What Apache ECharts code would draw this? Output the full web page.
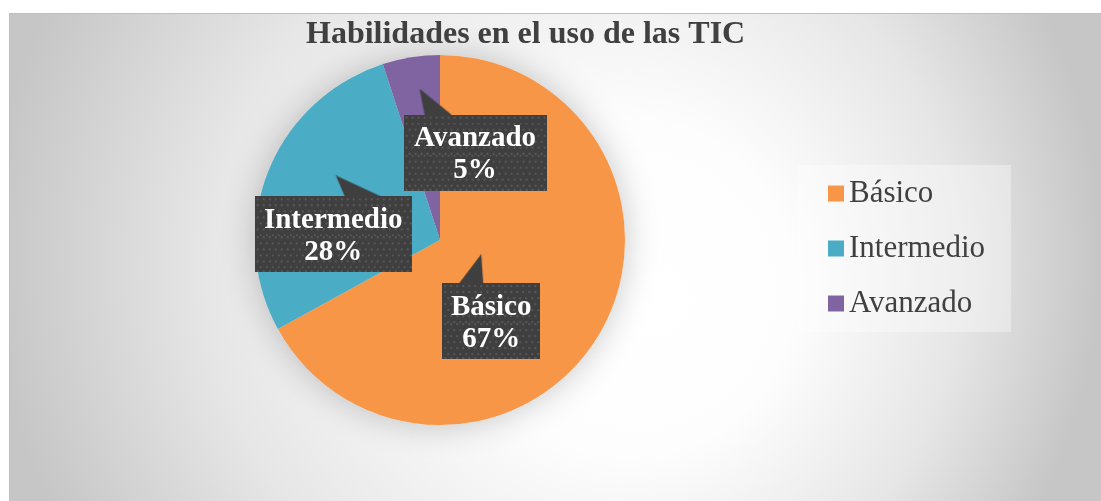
<!DOCTYPE html>
<html>
<head>
<meta charset="utf-8">
<script src="https://cdn.jsdelivr.net/npm/echarts@6/dist/echarts.min.js"></script>
<style>
  html, body { margin: 0; padding: 0; background: #ffffff; }
  #pieChart {
    position: absolute;
    left: 9px;
    top: 13px;
    width: 1091px;
    height: 487px;
    border-top: 1px solid #bfbfbf;
    border-left: 1px solid #bfbfbf;
  }
</style>
</head>
<body>
<div id="pieChart"></div>
<script>
// data
const categories = ['Básico', 'Intermedio', 'Avanzado'];
const percentValues = [67, 28, 5];

const sliceColors = ['#F79646', '#4BACC6', '#8064A2'];
const serif = '"Liberation Serif", "Times New Roman", serif';

// callout look for each label: block width, pointer height and pointer triangle
const callouts = [
  { w: 98, hp: 29, tri: [[39, 0], [17, 29], [41, 29]], shift: [-31, 18] },
  { w: 157, hp: 21, tri: [[81, 0], [90, 21], [126, 21]], shift: [-18, 19] },
  { w: 143, hp: 26, tri: [[16, 0], [21, 26], [48, 26]], shift: [50, -6] }
];
// box rows: top pad, two text lines, bottom pad (76px in all)
const padTop = 8, textH = 32, padBottom = 4;

// dark box with small dots like the office callout fill
function makeBox(w, h, yOff) {
  const c = document.createElement('canvas');
  c.width = w; c.height = h;
  const ctx = c.getContext('2d');
  ctx.fillStyle = '#3f3f3f';
  ctx.fillRect(0, 0, w, h);
  ctx.fillStyle = '#575757';
  for (let y = 2 - yOff, row = 0; y < h; y += 6, row++) {
    if (y < -2) continue;
    for (let x = (row % 2) ? 5 : 2; x < w; x += 6) {
      ctx.fillRect(x, y, 2, 2);
    }
  }
  return c;
}

function makePointer(w, h, pts) {
  const c = document.createElement('canvas');
  c.width = w; c.height = h;
  const ctx = c.getContext('2d');
  ctx.fillStyle = '#3f3f3f';
  ctx.beginPath();
  ctx.moveTo(pts[0][0], pts[0][1]);
  ctx.lineTo(pts[1][0], pts[1][1]);
  ctx.lineTo(pts[2][0], pts[2][1]);
  ctx.closePath();
  ctx.fill();
  return c;
}

// background: off-centre radial gradient
function paintBackground(el) {
  const w = 1091, h = 487;
  const c = document.createElement('canvas');
  c.width = w; c.height = h;
  const ctx = c.getContext('2d');
  const g = ctx.createRadialGradient(655, 290, 0, 535, 240, 555);
  g.addColorStop(0, '#ffffff');
  g.addColorStop(0.3, '#fdfdfd');
  g.addColorStop(0.68, '#e6e6e6');
  g.addColorStop(1, '#c6c6c6');
  ctx.fillStyle = g;
  ctx.fillRect(0, 0, w, h);
  el.style.background = 'url(' + c.toDataURL() + ') no-repeat';
}

const dom = document.getElementById('pieChart');
paintBackground(dom);
const myChart = echarts.init(dom, null, { renderer: 'canvas' });

const boxShadow = {
  shadowColor: 'rgba(0,0,0,0.4)',
  shadowBlur: 4,
  shadowOffsetX: 3,
  shadowOffsetY: 3
};

const rich = {};
callouts.forEach((c, i) => {
  rich['p' + i] = {
    width: c.w,
    height: c.hp,
    lineHeight: c.hp,
    backgroundColor: { image: makePointer(c.w, c.hp, c.tri) }
  };
  rich['t' + i] = Object.assign({
    width: c.w,
    height: padTop,
    lineHeight: padTop,
    fontSize: 4,
    backgroundColor: { image: makeBox(c.w, padTop, 0) }
  }, boxShadow);
  rich['b' + i] = Object.assign({
    width: c.w,
    height: textH,
    lineHeight: textH,
    align: 'center',
    color: '#ffffff',
    fontFamily: serif,
    fontWeight: 'bold',
    fontSize: 29,
    backgroundColor: { image: makeBox(c.w, textH, 2) }
  }, boxShadow);
  rich['u' + i] = Object.assign({
    width: c.w,
    height: padBottom,
    lineHeight: padBottom,
    fontSize: 4,
    backgroundColor: { image: makeBox(c.w, padBottom, 0) }
  }, boxShadow);
});

myChart.setOption({
  title: {
    text: 'Habilidades en el uso de las TIC',
    left: 291,
    top: 0,
    textStyle: {
      fontFamily: serif,
      fontWeight: 'bold',
      fontSize: 32,
      color: '#404040'
    }
  },
  legend: {
    data: categories,
    orient: 'vertical',
    left: 788,
    top: 151,
    padding: [13, 26, 13, 30],
    backgroundColor: 'rgba(255,255,255,0.35)',
    itemWidth: 16,
    itemHeight: 16,
    itemGap: 24,
    itemTextGap: 7,
    icon: 'rect',
    textStyle: {
      fontFamily: serif,
      fontSize: 31,
      color: '#404040'
    }
  },
  series: [
    {
      // soft halo behind the pie
      type: 'pie',
      silent: true,
      center: [430, 226],
      radius: 185,
      z: 1,
      label: { show: false },
      labelLine: { show: false },
      itemStyle: {
        color: '#f0f0f0',
        shadowBlur: 34,
        shadowColor: 'rgba(0,0,0,0.22)'
      },
      data: [{ value: 1, name: '' }]
    },
    {
      type: 'pie',
      center: [430, 226],
      radius: 185,
      startAngle: 90,
      clockwise: true,
      z: 2,
      color: sliceColors,
      label: {
        show: true,
        position: 'inside',
        padding: 0,
        formatter: function (p) {
          const i = p.dataIndex;
          return '{p' + i + '| }\n{t' + i + '| }\n{b' + i + '|' + p.name + '}\n{b' + i + '|' +
            p.value + '%}\n{u' + i + '| }';
        },
        rich: rich
      },
      labelLayout: function (p) {
        const s = callouts[p.dataIndex].shift;
        return { dx: s[0], dy: s[1] };
      },
      labelLine: { show: false },
      emphasis: { disabled: true },
      data: categories.map((name, i) => ({ name: name, value: percentValues[i] }))
    }
  ]
});
</script>
</body>
</html>
